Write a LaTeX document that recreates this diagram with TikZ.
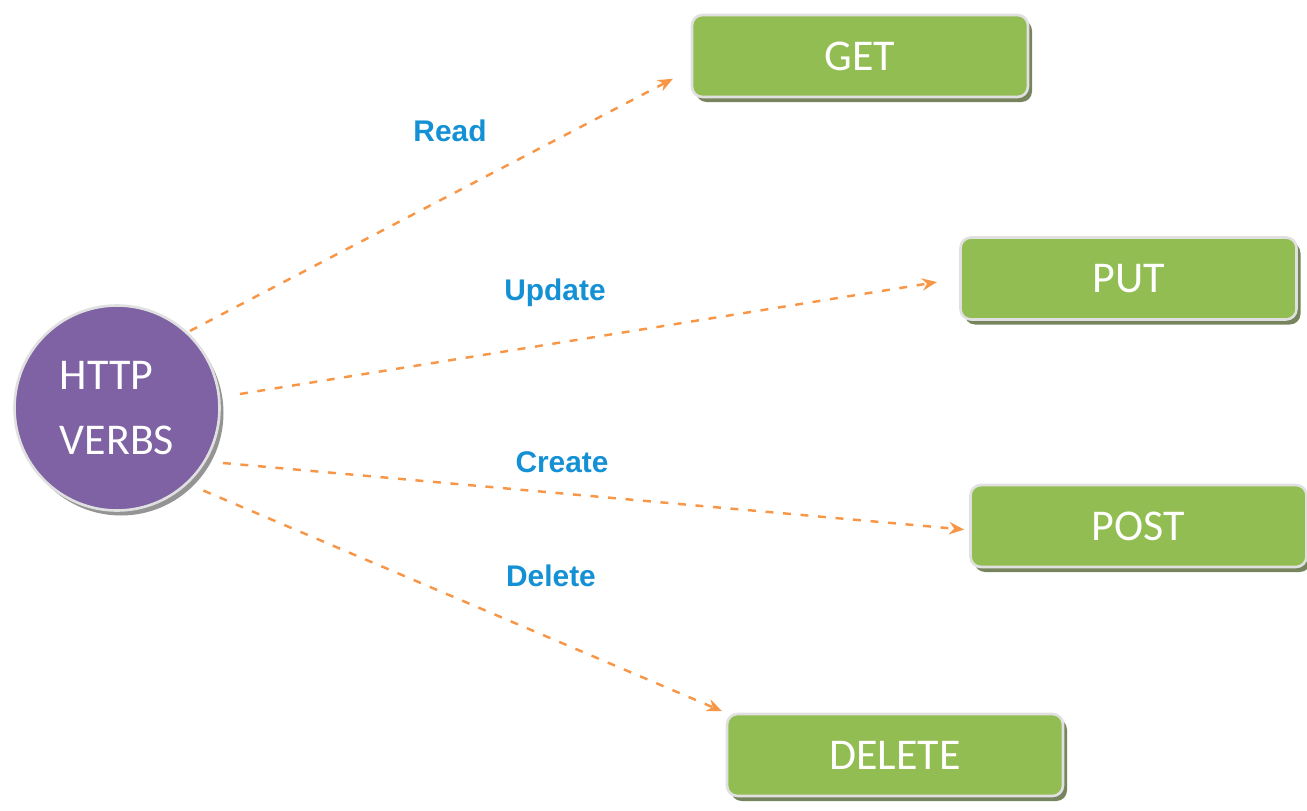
\documentclass[tikz,border=0pt]{standalone}
\usepackage{fontspec}
\setmainfont{Carlito}
\newfontfamily\actionfont{Liberation Sans}
\usetikzlibrary{arrows.meta,shadows,positioning}

\begin{document}
\begin{tikzpicture}[
    verbbox/.style={draw=black!12, line width=1.5pt, fill=verbGreen, minimum width=6.72cm, minimum height=1.64cm,
        rounded corners=6pt, text=white, font=\fontsize{25}{30}\selectfont,
        drop shadow={shadow xshift=0.08cm, shadow yshift=-0.1cm, fill=shadowGreen, opacity=0.75}},
    flow/.style={draw=flowOrange, line width=1.4pt, dash pattern=on 4.5pt off 5.5pt,
        -{Stealth[length=8.5pt, width=7pt]}},
    action/.style={font=\actionfont\bfseries\fontsize{17}{20}\selectfont, text=actionBlue}
]
    % Color Palette
    \definecolor{verbPurple}{HTML}{7E62A3}
    \definecolor{verbGreen}{HTML}{92BD52}
    \definecolor{shadowGreen}{HTML}{4A5C2A}
    \definecolor{flowOrange}{HTML}{F79646}
    \definecolor{actionBlue}{HTML}{1490D4}

    \useasboundingbox (0,0) rectangle (26.14,-16.22);

    % --- Centre circle ---
    \node[circle, draw=black!12, line width=1.5pt, fill=verbPurple, minimum size=4.1cm, text=white,
        align=left, font=\fontsize{25}{37}\selectfont,
        drop shadow={shadow xshift=0.08cm, shadow yshift=-0.1cm, fill=black!70, opacity=0.6}]
        (verbs) at (2.34,-8.16) {HTTP\\VERBS};

    % --- Verb boxes ---
    \node[verbbox] (get) at (17.2,-1.12) {GET};
    \node[verbbox] (put) at (22.57,-5.57) {PUT};
    \node[verbbox] (post) at (22.77,-10.52) {POST};
    \node[verbbox] (delete) at (17.9,-15.1) {DELETE};

    % --- Operation labels ---
    \node[action] (read) at (9.0,-2.62) {Read};
    \node[action] (update) at (11.1,-5.86) {Update};
    \node[action] (create) at (11.24,-9.24) {Create};
    \node[action] (remove) at (11.02,-11.52) {Delete};

    % Arrows
    \draw[flow, shorten <=0.05cm, shorten >=0.4cm] (verbs.47) -- ([yshift=-0.27cm]get.west);
    \draw[flow, shorten <=0.4cm, shorten >=0.45cm] (verbs.6) -- (put.west);
    \draw[flow, shorten <=0.34cm, shorten >=0.1cm] (verbs.-31) -- ([yshift=-0.08cm]post.west);
    \draw[flow, shorten <=0.34cm, shorten >=0.08cm] (verbs.-47) -- (delete.north west);

\end{tikzpicture}
\end{document}
